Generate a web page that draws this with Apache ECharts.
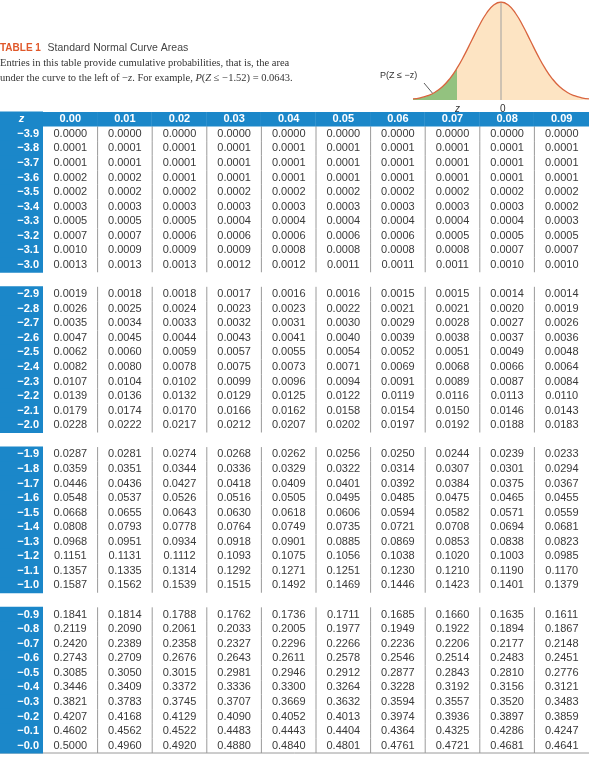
<!DOCTYPE html>
<html><head><meta charset="utf-8">
<script src="https://cdn.jsdelivr.net/npm/echarts@6/dist/echarts.min.js"></script>
<style>html,body{margin:0;padding:0;background:#fff}#c{width:589px;height:761px}</style>
</head><body><div id="c"></div>
<script>
const colLabels = ['0.00','0.01','0.02','0.03','0.04','0.05','0.06','0.07','0.08','0.09'];
const zBlock1 = ['−3.9','−3.8','−3.7','−3.6','−3.5','−3.4','−3.3','−3.2','−3.1','−3.0'];
const zBlock2 = ['−2.9','−2.8','−2.7','−2.6','−2.5','−2.4','−2.3','−2.2','−2.1','−2.0'];
const zBlock3 = ['−1.9','−1.8','−1.7','−1.6','−1.5','−1.4','−1.3','−1.2','−1.1','−1.0'];
const zBlock4 = ['−0.9','−0.8','−0.7','−0.6','−0.5','−0.4','−0.3','−0.2','−0.1','−0.0'];
const block1 = [
[.0000,.0000,.0000,.0000,.0000,.0000,.0000,.0000,.0000,.0000],
[.0001,.0001,.0001,.0001,.0001,.0001,.0001,.0001,.0001,.0001],
[.0001,.0001,.0001,.0001,.0001,.0001,.0001,.0001,.0001,.0001],
[.0002,.0002,.0001,.0001,.0001,.0001,.0001,.0001,.0001,.0001],
[.0002,.0002,.0002,.0002,.0002,.0002,.0002,.0002,.0002,.0002],
[.0003,.0003,.0003,.0003,.0003,.0003,.0003,.0003,.0003,.0002],
[.0005,.0005,.0005,.0004,.0004,.0004,.0004,.0004,.0004,.0003],
[.0007,.0007,.0006,.0006,.0006,.0006,.0006,.0005,.0005,.0005],
[.0010,.0009,.0009,.0009,.0008,.0008,.0008,.0008,.0007,.0007],
[.0013,.0013,.0013,.0012,.0012,.0011,.0011,.0011,.0010,.0010]];
const block2 = [
[.0019,.0018,.0018,.0017,.0016,.0016,.0015,.0015,.0014,.0014],
[.0026,.0025,.0024,.0023,.0023,.0022,.0021,.0021,.0020,.0019],
[.0035,.0034,.0033,.0032,.0031,.0030,.0029,.0028,.0027,.0026],
[.0047,.0045,.0044,.0043,.0041,.0040,.0039,.0038,.0037,.0036],
[.0062,.0060,.0059,.0057,.0055,.0054,.0052,.0051,.0049,.0048],
[.0082,.0080,.0078,.0075,.0073,.0071,.0069,.0068,.0066,.0064],
[.0107,.0104,.0102,.0099,.0096,.0094,.0091,.0089,.0087,.0084],
[.0139,.0136,.0132,.0129,.0125,.0122,.0119,.0116,.0113,.0110],
[.0179,.0174,.0170,.0166,.0162,.0158,.0154,.0150,.0146,.0143],
[.0228,.0222,.0217,.0212,.0207,.0202,.0197,.0192,.0188,.0183]];
const block3 = [
[.0287,.0281,.0274,.0268,.0262,.0256,.0250,.0244,.0239,.0233],
[.0359,.0351,.0344,.0336,.0329,.0322,.0314,.0307,.0301,.0294],
[.0446,.0436,.0427,.0418,.0409,.0401,.0392,.0384,.0375,.0367],
[.0548,.0537,.0526,.0516,.0505,.0495,.0485,.0475,.0465,.0455],
[.0668,.0655,.0643,.0630,.0618,.0606,.0594,.0582,.0571,.0559],
[.0808,.0793,.0778,.0764,.0749,.0735,.0721,.0708,.0694,.0681],
[.0968,.0951,.0934,.0918,.0901,.0885,.0869,.0853,.0838,.0823],
[.1151,.1131,.1112,.1093,.1075,.1056,.1038,.1020,.1003,.0985],
[.1357,.1335,.1314,.1292,.1271,.1251,.1230,.1210,.1190,.1170],
[.1587,.1562,.1539,.1515,.1492,.1469,.1446,.1423,.1401,.1379]];
const block4 = [
[.1841,.1814,.1788,.1762,.1736,.1711,.1685,.1660,.1635,.1611],
[.2119,.2090,.2061,.2033,.2005,.1977,.1949,.1922,.1894,.1867],
[.2420,.2389,.2358,.2327,.2296,.2266,.2236,.2206,.2177,.2148],
[.2743,.2709,.2676,.2643,.2611,.2578,.2546,.2514,.2483,.2451],
[.3085,.3050,.3015,.2981,.2946,.2912,.2877,.2843,.2810,.2776],
[.3446,.3409,.3372,.3336,.3300,.3264,.3228,.3192,.3156,.3121],
[.3821,.3783,.3745,.3707,.3669,.3632,.3594,.3557,.3520,.3483],
[.4207,.4168,.4129,.4090,.4052,.4013,.3974,.3936,.3897,.3859],
[.4602,.4562,.4522,.4483,.4443,.4404,.4364,.4325,.4286,.4247],
[.5000,.4960,.4920,.4880,.4840,.4801,.4761,.4721,.4681,.4641]];
const curveX = [-3,-2.75,-2.5,-2.25,-2,-1.75,-1.5,-1.25,-1,-0.75,-0.5,-0.25,0,0.25,0.5,0.75,1,1.25,1.5,1.75,2,2.25,2.5,2.75,3];
const curveY = [0.0044,0.0091,0.0175,0.0317,0.0540,0.0863,0.1295,0.1826,0.2420,0.3011,0.3521,0.3867,0.3989,0.3867,0.3521,0.3011,0.2420,0.1826,0.1295,0.0863,0.0540,0.0317,0.0175,0.0091,0.0044];
const zExample = -1.5;

const BLUE = '#1b87c9';
const zBlocks = [zBlock1, zBlock2, zBlock3, zBlock4];
const vBlocks = [block1, block2, block3, block4];
const rowKeys = ['hdr'];
const zCells = [[0, 0, 'z', 'h']];
const vCells = [];
colLabels.forEach((c, i) => vCells.push([i, 0, c, 'h']));
zBlocks.forEach((zb, b) => {
  if (b > 0) rowKeys.push('gap' + b);
  zb.forEach((zl, r) => {
    const ri = rowKeys.length;
    rowKeys.push(zl);
    zCells.push([0, ri, zl, 'd']);
    vBlocks[b][r].forEach((v, c) => vCells.push([c, ri, v.toFixed(4), 'd']));
  });
});

function renderZ(params, api) {
  const cell = zCells[params.dataIndex];
  const p = api.coord([cell[0], cell[1]]);
  const s = api.size([1, 1]);
  const hdr = cell[3] === 'h';
  return {type: 'group', children: [
    {type: 'rect', shape: {x: p[0] - s[0]/2, y: p[1] - s[1]/2 - 0.5, width: s[0], height: s[1] + 1}, style: {fill: BLUE}},
    {type: 'text', x: hdr ? p[0] : p[0] + s[0]/2 - 4, y: p[1], style: {text: cell[2], fill: '#fff',
      font: (hdr ? 'italic bold ' : 'bold ') + '11px "Liberation Sans"', align: hdr ? 'center' : 'right', verticalAlign: 'middle'}}
  ]};
}
function renderV(params, api) {
  const cell = vCells[params.dataIndex];
  const c = cell[0];
  const p = api.coord([c, cell[1]]);
  const s = api.size([1, 1]);
  const hdr = cell[3] === 'h';
  const ch = [];
  if (hdr) {
    ch.push({type: 'rect', shape: {x: p[0] - s[0]/2 - 0.5, y: p[1] - s[1]/2, width: s[0] + 1, height: s[1]}, style: {fill: BLUE}});
    if (c < 9) ch.push({type: 'line', shape: {x1: p[0] + s[0]/2, y1: p[1] - s[1]/2, x2: p[0] + s[0]/2, y2: p[1] + s[1]/2}, style: {stroke: 'rgba(255,255,255,0.45)', lineWidth: 1}});
    ch.push({type: 'text', x: p[0], y: p[1], style: {text: cell[2], fill: '#fff', font: 'bold 11px "Liberation Sans"', align: 'center', verticalAlign: 'middle'}});
  } else {
    if (c < 9) ch.push({type: 'line', shape: {x1: p[0] + s[0]/2, y1: p[1] - s[1]/2, x2: p[0] + s[0]/2, y2: p[1] + s[1]/2}, style: {stroke: '#9a9a9a', lineWidth: 1}});
    ch.push({type: 'text', x: p[0], y: p[1], style: {text: cell[2], fill: '#3a3a3a', font: '11px "Liberation Sans"', align: 'center', verticalAlign: 'middle'}});
  }
  return {type: 'group', children: ch};
}

const fullCurve = curveX.map((x, i) => [x, curveY[i]]);
const tailCurve = fullCurve.filter(d => d[0] <= zExample);

const chart = echarts.init(document.getElementById('c'), null, {renderer: 'canvas'});
chart.setOption({
  animation: false,
  grid: [
    {left: 0, width: 43, top: 112, height: 641},
    {left: 43, width: 546, top: 112, height: 641},
    {left: 413, width: 180, top: 2, height: 98}
  ],
  xAxis: [
    {type: 'category', gridIndex: 0, data: ['z'], show: false},
    {type: 'category', gridIndex: 1, data: colLabels, show: false},
    {type: 'value', gridIndex: 2, min: -3, max: 3, show: false}
  ],
  yAxis: [
    {type: 'category', gridIndex: 0, data: rowKeys, inverse: true, show: false},
    {type: 'category', gridIndex: 1, data: rowKeys, inverse: true, show: false},
    {type: 'value', gridIndex: 2, min: 0, max: 0.3989, show: false}
  ],
  series: [
    {type: 'custom', xAxisIndex: 0, yAxisIndex: 0, data: zCells.map(d => [d[0], d[1]]), renderItem: renderZ, silent: true},
    {type: 'custom', xAxisIndex: 1, yAxisIndex: 1, data: vCells.map(d => [d[0], d[1]]), renderItem: renderV, silent: true},
    {type: 'line', xAxisIndex: 2, yAxisIndex: 2, data: fullCurve, smooth: true, symbol: 'none', lineStyle: {width: 0}, areaStyle: {color: '#fde4c3', opacity: 1}, z: 1},
    {type: 'line', xAxisIndex: 2, yAxisIndex: 2, data: tailCurve, smooth: true, symbol: 'none', lineStyle: {width: 0}, areaStyle: {color: '#93c27f', opacity: 1}, z: 2},
    {type: 'line', xAxisIndex: 2, yAxisIndex: 2, data: [[0, 0], [0, 0.3989]], symbol: 'none', lineStyle: {color: '#a0a0a0', width: 1}, z: 3},
    {type: 'line', xAxisIndex: 2, yAxisIndex: 2, data: fullCurve, smooth: true, symbol: 'none', lineStyle: {color: '#d9653f', width: 1.3}, z: 4}
  ],
  graphic: [
    {type: 'text', left: 0, top: 42, style: {text: '{a|TABLE 1}  {b|Standard Normal Curve Areas}',
      rich: {a: {font: 'bold 10px "Liberation Sans"', fill: '#e0582a'}, b: {font: '10.5px "Liberation Sans"', fill: '#444'}}}},
    {type: 'text', left: 0, top: 58, style: {text: 'Entries in this table provide cumulative probabilities, that is, the area', font: '10.5px "Liberation Serif"', fill: '#333'}},
    {type: 'text', left: 0, top: 73, style: {text: '{n|under the curve to the left of −}{i|z}{n|. For example, }{i|P}{n|(}{i|Z}{n| ≤ −1.52) = 0.0643.}',
      rich: {n: {font: '10.5px "Liberation Serif"', fill: '#333'}, i: {font: 'italic 10.5px "Liberation Serif"', fill: '#333'}}}},
    {type: 'text', left: 380, top: 71, style: {text: 'P(Z ≤ −z)', font: '9px "Liberation Sans"', fill: '#333'}},
    {type: 'line', shape: {x1: 424, y1: 83, x2: 434, y2: 95}, style: {stroke: '#333', lineWidth: 0.8}},
    {type: 'circle', shape: {cx: 434, cy: 95, r: 1.2}, style: {fill: '#333'}},
    {type: 'text', left: 455, top: 104, style: {text: 'z', font: 'italic 10px "Liberation Sans"', fill: '#333'}},
    {type: 'text', left: 500, top: 104, style: {text: '0', font: '10px "Liberation Sans"', fill: '#333'}},
    {type: 'line', shape: {x1: 0, y1: 753, x2: 589, y2: 753}, style: {stroke: '#9a9a9a', lineWidth: 1}}
  ]
});
</script></body></html>
